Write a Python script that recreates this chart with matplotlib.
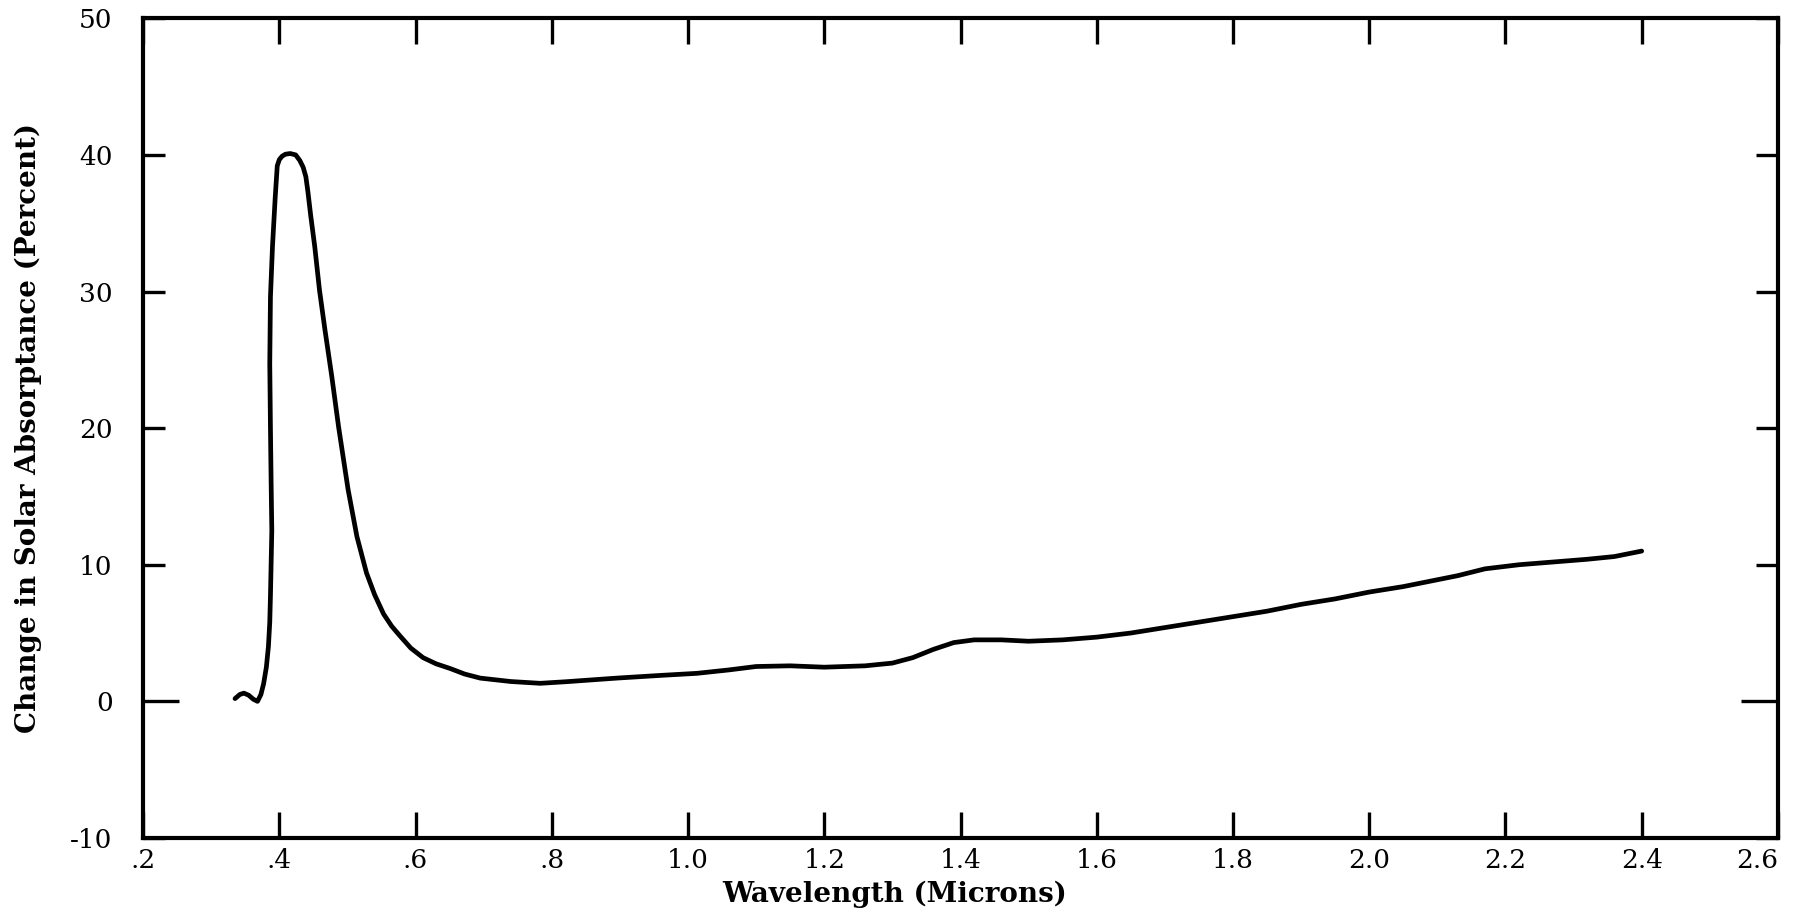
import matplotlib.pyplot as plt

# wavelength (microns) vs change in solar absorptance (percent)
wavelength = [0.335, 0.342, 0.348, 0.355, 0.362, 0.368, 0.373, 0.377, 0.381, 0.384,
              0.386, 0.387, 0.389, 0.388, 0.387, 0.386, 0.387, 0.390, 0.394, 0.397,
              0.400, 0.404, 0.409, 0.416, 0.424, 0.430, 0.435, 0.439, 0.442, 0.446,
              0.452, 0.459, 0.467, 0.477, 0.487, 0.501, 0.514, 0.528, 0.540, 0.553,
              0.565, 0.577, 0.593, 0.611, 0.630, 0.651, 0.672, 0.695, 0.740, 0.783,
              0.822, 0.895, 0.960, 1.013, 1.060, 1.100, 1.150, 1.200, 1.260, 1.300,
              1.330, 1.360, 1.390, 1.420, 1.460, 1.500, 1.550, 1.600, 1.650, 1.700,
              1.750, 1.800, 1.850, 1.900, 1.950, 2.000, 2.050, 2.100, 2.130, 2.170,
              2.220, 2.270, 2.320, 2.360, 2.400]
absorptance = [0.2, 0.5, 0.6, 0.45, 0.15, 0.0, 0.5, 1.3, 2.5, 4.0,
               5.8, 7.7, 12.5, 16.0, 20.0, 24.7, 29.6, 33.3, 36.9, 39.2,
               39.65, 39.9, 40.05, 40.1, 40.0, 39.6, 39.1, 38.4, 37.3, 35.6,
               33.3, 30.1, 27.2, 23.8, 20.1, 15.5, 12.05, 9.4, 7.8, 6.4,
               5.5, 4.8, 3.9, 3.2, 2.75, 2.4, 2.0, 1.7, 1.45, 1.32,
               1.44, 1.7, 1.9, 2.05, 2.3, 2.55, 2.6, 2.5, 2.6, 2.8,
               3.2, 3.8, 4.3, 4.5, 4.5, 4.4, 4.5, 4.7, 5.0, 5.4,
               5.8, 6.2, 6.6, 7.1, 7.5, 8.0, 8.4, 8.9, 9.2, 9.7,
               10.0, 10.2, 10.4, 10.6, 11.0]

x_ticks = [0.2, 0.4, 0.6, 0.8, 1.0, 1.2, 1.4, 1.6, 1.8, 2.0, 2.2, 2.4, 2.6]
x_labels = ['.2', '.4', '.6', '.8', '1.0', '1.2', '1.4', '1.6', '1.8', '2.0', '2.2', '2.4', '2.6']
y_ticks = [-10, 0, 10, 20, 30, 40, 50]
y_labels = ['-10', '0', '10', '20', '30', '40', '50']

plt.rcParams['font.family'] = ['DejaVu Serif']

fig = plt.figure(figsize=(17.95, 9.14), dpi=100)
ax = fig.add_axes([0.0797, 0.0832, 0.9108, 0.8968])

ax.plot(wavelength, absorptance, color='black', lw=3.4, solid_capstyle='round',
        solid_joinstyle='round')

ax.set_xlim(0.2, 2.6)
ax.set_ylim(-10, 50)

ax.set_xticks(x_ticks)
ax.set_xticklabels(x_labels)
ax.set_yticks(y_ticks)
ax.set_yticklabels(y_labels)

for side in ['top', 'bottom', 'left', 'right']:
    ax.spines[side].set_linewidth(3.0)

ax.tick_params(axis='x', direction='in', top=True, bottom=True, length=19, width=2.4,
               labelsize=19, pad=7)
ax.tick_params(axis='y', direction='in', left=True, right=True, length=16, width=2.4,
               labelsize=19, pad=22)

# last x label sits against the right frame edge
ax.get_xticklabels()[-1].set_horizontalalignment('right')

# the zero line gets a longer mark on both sides
zero_tick = ax.yaxis.get_major_ticks()[1]
zero_tick.tick1line.set_markersize(26)
zero_tick.tick2line.set_markersize(27)

ax.set_xlabel('Wavelength (Microns)', fontsize=20, fontweight='bold')
ax.xaxis.set_label_coords(0.46, -0.052)
ax.set_ylabel('Change in Solar Absorptance (Percent)', fontsize=20, fontweight='bold')
ax.yaxis.set_label_coords(-0.062, 0.5)

fig.savefig('out.png', dpi=100, facecolor='white')
